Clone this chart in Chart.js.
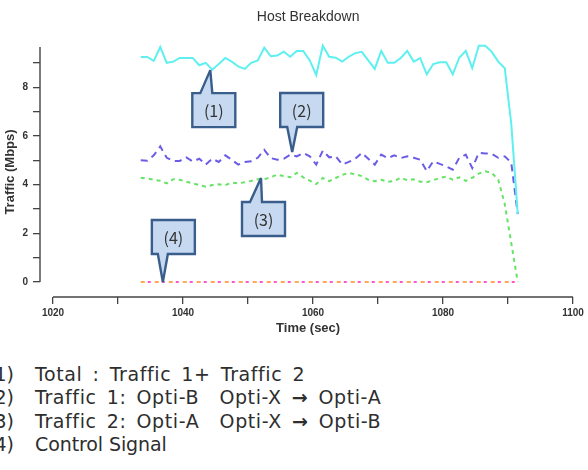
<!DOCTYPE html>
<html>
<head>
<meta charset="utf-8">
<script src="https://cdn.jsdelivr.net/npm/chart.js@4/dist/chart.umd.min.js"></script>
<style>
  html, body { margin: 0; padding: 0; background: #fff; }
  #wrap { position: relative; width: 588px; height: 470px; overflow: hidden; }
  #chartBox { position: absolute; left: 0; top: 0; width: 588px; height: 345px; }
  #notes {
    position: absolute; left: 0; top: 363px;
    font-family: "DejaVu Sans", sans-serif;
    font-size: 19px; line-height: 23.3px; color: #2e2e2e; white-space: pre;
    word-spacing: 3.5px; letter-spacing: 0.6px;
  }
  #notes .num { display: inline-block; width: 24px; margin-left: -13px; margin-right: 24px; text-align: right; word-spacing: 0; letter-spacing: 0; }
  #notes .last { word-spacing: 0; letter-spacing: -0.1px; }
  #notes b { font-weight: bold; }
</style>
</head>
<body>
<div id="wrap">
  <div id="chartBox"><canvas id="myChart"></canvas></div>
  <div id="notes"><div><span class="num">(1)</span>Total : Traffic 1+ Traffic 2</div><div><span class="num">(2)</span>Traffic 1: Opti-B  Opti-X <b>→</b> Opti-A</div><div><span class="num">(3)</span>Traffic 2: Opti-A  Opti-X <b>→</b> Opti-B</div><div class="last"><span class="num">(4)</span>Control Signal</div></div>
</div>
<script>
// sample times (sec)
const times = [1033.5, 1034.5, 1035.5, 1036.5, 1037.5, 1038.5, 1039.5, 1040.5, 1041.5, 1042.5,
    1043.5, 1044.5, 1045.5, 1046.5, 1047.5, 1048.5, 1049.5, 1050.5, 1051.5, 1052.5,
    1053.5, 1054.5, 1055.5, 1056.5, 1057.5, 1058.5, 1059.5, 1060.5, 1061.5, 1062.5,
    1063.5, 1064.5, 1065.5, 1066.5, 1067.5, 1068.5, 1069.5, 1070.5, 1071.5, 1072.5,
    1073.5, 1074.5, 1075.5, 1076.5, 1077.5, 1078.5, 1079.5, 1080.5, 1081.5, 1082.5,
    1083.5, 1084.5, 1085.5, 1086.5, 1087.5, 1088.5, 1089.5, 1090.5, 1091.5];

// (1) total
const totalTraffic = [9.24, 9.24, 9.08, 9.65, 9.0, 9.05, 9.2, 9.2, 9.2, 8.9,
    9.0, 8.72, 8.95, 9.2, 9.05, 8.85, 8.75, 9.0, 9.1, 9.62,
    9.27, 9.3, 9.46, 9.25, 9.49, 9.49, 9.1, 8.5, 9.7, 9.25,
    9.21, 9.05, 9.25, 9.4, 9.45, 9.1, 8.75, 9.49, 9.0, 9.0,
    9.2, 9.49, 9.05, 9.19, 8.53, 8.95, 9.02, 9.02, 8.53, 9.21,
    9.49, 8.78, 9.7, 9.7, 9.45, 9.05, 8.78, 6.5, 2.8];

// (2) traffic 1
const traffic1 = [5.0, 4.98, 5.2, 5.57, 5.1, 4.97, 4.97, 5.12, 4.95, 5.06,
    4.82, 5.06, 4.93, 5.2, 5.02, 4.82, 4.93, 4.96, 5.1, 5.43,
    5.09, 5.02, 5.06, 5.23, 5.16, 5.3, 5.16, 4.82, 5.39, 5.12,
    5.16, 4.82, 4.93, 5.06, 5.3, 5.06, 4.82, 5.23, 5.09, 5.2,
    5.09, 5.16, 5.1, 5.02, 4.55, 4.96, 4.85, 4.75, 4.61, 5.1,
    5.23, 4.68, 5.3, 5.28, 5.26, 5.1, 5.16, 4.9, 2.79];

// (3) traffic 2
const traffic2 = [4.28, 4.25, 4.2, 4.16, 4.05, 4.22, 4.2, 4.12, 4.05, 3.98,
    3.91, 3.98, 4.01, 3.98, 4.08, 4.05, 4.1, 4.15, 4.22, 4.22,
    4.3, 4.41, 4.35, 4.3, 4.48, 4.3, 4.16, 4.02, 4.27, 4.14,
    4.27, 4.4, 4.48, 4.42, 4.35, 4.2, 4.14, 4.2, 4.11, 4.15,
    4.28, 4.18, 4.22, 4.12, 4.1, 4.18, 4.27, 4.33, 4.2, 4.3,
    4.15, 4.28, 4.45, 4.55, 4.48, 4.2, 3.2, 1.6, 0];

// (4) control signal
const controlSignal = [0, 0, 0, 0, 0, 0, 0, 0, 0, 0,
    0, 0, 0, 0, 0, 0, 0, 0, 0, 0,
    0, 0, 0, 0, 0, 0, 0, 0, 0, 0,
    0, 0, 0, 0, 0, 0, 0, 0, 0, 0,
    0, 0, 0, 0, 0, 0, 0, 0, 0, 0,
    0, 0, 0, 0, 0, 0, 0, 0, 0];

const xTicks = [1020, 1030, 1040, 1050, 1060, 1070, 1080, 1090, 1100];
const yTicks = [0, 1, 2, 3, 4, 5, 6, 7, 8, 9];

// callout boxes: tip at (t, v), box offset from tip in px
const callouts = [
    {label: '(1)', t: 1044.2, v: 8.7, bx: -18, by: 23, tail: 'top', a: 8, b: 20},
    {label: '(2)', t: 1056.8, v: 5.34, bx: -12, by: -59, tail: 'bottom', a: 7, b: 17},
    {label: '(3)', t: 1052, v: 4.27, bx: -19, by: 24, tail: 'top', a: 8, b: 20},
    {label: '(4)', t: 1036.9, v: 0, bx: -11, by: -62, tail: 'bottom', a: 6, b: 16}
];

function pts(values) {
    return times.map(function (t, i) { return {x: t, y: values[i]}; });
}

const axisLinePlugin = {
    id: 'axisLines',
    beforeDatasetsDraw(chart) {
        const {ctx, chartArea, scales: {x, y}} = chart;
        ctx.save();
        ctx.strokeStyle = '#444';
        ctx.lineWidth = 1.4;
        ctx.beginPath();
        ctx.moveTo(chartArea.left, y.getPixelForValue(yTicks[0]));
        ctx.lineTo(chartArea.left, chartArea.top);
        ctx.moveTo(x.getPixelForValue(xTicks[0]), chartArea.bottom);
        ctx.lineTo(x.getPixelForValue(xTicks[xTicks.length - 1]), chartArea.bottom);
        ctx.stroke();
        ctx.restore();
    }
};

const calloutPlugin = {
    id: 'callouts',
    afterDatasetsDraw(chart) {
        const {ctx, scales: {x, y}} = chart;
        callouts.forEach(function (c) {
            const tx = x.getPixelForValue(c.t), ty = y.getPixelForValue(c.v);
            const L = tx + c.bx, T = ty + c.by, R = L + 43, B = T + 34;
            ctx.save();
            ctx.beginPath();
            if (c.tail === 'top') {
                ctx.moveTo(L, T); ctx.lineTo(L + c.a, T); ctx.lineTo(tx, ty); ctx.lineTo(L + c.b, T);
                ctx.lineTo(R, T); ctx.lineTo(R, B); ctx.lineTo(L, B);
            } else {
                ctx.moveTo(L, T); ctx.lineTo(R, T); ctx.lineTo(R, B); ctx.lineTo(L + c.b, B);
                ctx.lineTo(tx, ty); ctx.lineTo(L + c.a, B); ctx.lineTo(L, B);
            }
            ctx.closePath();
            ctx.fillStyle = '#c6d9f1';
            ctx.fill();
            ctx.lineWidth = 2.4;
            ctx.miterLimit = 4;
            ctx.strokeStyle = '#3a5e8c';
            ctx.stroke();
            ctx.fillStyle = '#333';
            ctx.font = '16px "Noto Sans CJK KR", "Noto Sans", sans-serif';
            ctx.textAlign = 'center';
            ctx.textBaseline = 'middle';
            ctx.fillText(c.label, (L + R) / 2, (T + B) / 2 + 1);
            ctx.restore();
        });
    }
};

const tickFont = {family: 'Liberation Sans', size: 10, weight: 'bold'};
const titleFont = {family: 'Liberation Sans', size: 13, weight: 'bold'};

let ctx = document.getElementById('myChart').getContext('2d');
let myChart = new Chart(ctx, {
    type: 'line',
    data: {
        datasets: [{
            label: 'Total',
            data: pts(totalTraffic),
            borderColor: '#5ef0f0',
            borderWidth: 2
        }, {
            label: 'Traffic 1',
            data: pts(traffic1),
            borderColor: '#6b5ce8',
            borderWidth: 2,
            borderDash: [7, 5]
        }, {
            label: 'Traffic 2',
            data: pts(traffic2),
            borderColor: '#66e366',
            borderWidth: 2,
            borderDash: [4, 4]
        }, {
            label: 'Control Signal',
            data: pts(controlSignal),
            borderColor: '#ffa855',
            borderWidth: 2,
            borderDash: [4, 10]
        }, {
            label: 'Control Signal 2',
            data: pts(controlSignal),
            borderColor: '#ff55c8',
            borderWidth: 2,
            borderDash: [3, 11],
            borderDashOffset: 7
        }]
    },
    options: {
        responsive: true,
        maintainAspectRatio: false,
        animation: false,
        devicePixelRatio: 1,
        elements: {point: {radius: 0}, line: {tension: 0}},
        datasets: {line: {clip: false}},
        layout: {padding: {left: 0, right: 11.75, top: 0, bottom: 8}},
        plugins: {
            legend: {display: false},
            tooltip: {enabled: false},
            title: {
                display: true,
                text: 'Host Breakdown',
                fullSize: false,
                color: '#333',
                font: {family: 'Liberation Sans', size: 14, weight: 'normal'},
                padding: {top: 9, bottom: 21.2}
            }
        },
        scales: {
            x: {
                type: 'linear',
                min: 1018,
                max: 1100.5,
                afterFit: function (s) { s.height = 40; },
                afterBuildTicks: function (s) { s.ticks = xTicks.map(function (v) { return {value: v}; }); },
                ticks: {
                    autoSkip: false, maxRotation: 0, padding: 3, color: '#333', font: tickFont,
                    callback: function (v) { return v % 20 === 0 ? String(v) : ''; }
                },
                grid: {drawOnChartArea: false, drawTicks: true, tickLength: 7, color: '#444', lineWidth: 1.3},
                border: {display: false},
                title: {display: true, text: 'Time (sec)', color: '#333', font: titleFont, padding: {top: 0, bottom: 1}}
            },
            y: {
                min: -0.616,
                max: 9.65,
                afterFit: function (s) { s.width = 40; },
                afterBuildTicks: function (s) { s.ticks = yTicks.map(function (v) { return {value: v}; }); },
                ticks: {
                    autoSkip: false, padding: 5, color: '#333', font: tickFont,
                    callback: function (v) { return v % 2 === 0 ? String(v) : ''; }
                },
                grid: {drawOnChartArea: false, drawTicks: true, tickLength: 7, color: '#444', lineWidth: 1.3},
                border: {display: false},
                title: {display: true, text: 'Traffic (Mbps)', color: '#333', font: titleFont, padding: {top: 3, bottom: 0}}
            }
        }
    },
    plugins: [axisLinePlugin, calloutPlugin]
});
</script>
</body>
</html>
